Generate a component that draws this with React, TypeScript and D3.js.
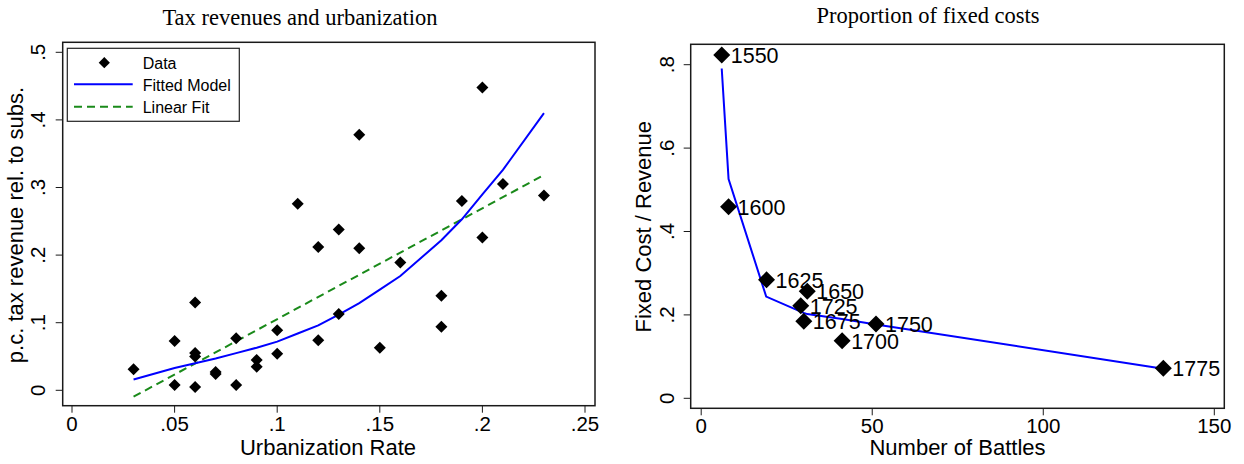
import React from "react";
import * as d3 from "d3";

// ---------- Left panel data ----------
const urbX = [0.03, 0.05, 0.05, 0.06, 0.06, 0.06, 0.06, 0.07, 0.07, 0.08, 0.08, 0.09, 0.09, 0.1, 0.1, 0.11, 0.12, 0.12, 0.13, 0.13, 0.14, 0.14, 0.15, 0.16, 0.18, 0.18, 0.19, 0.2, 0.2, 0.21, 0.23];
const taxY = [0.031, 0.073, 0.008, 0.13, 0.055, 0.05, 0.005, 0.027, 0.024, 0.077, 0.008, 0.045, 0.035, 0.089, 0.054, 0.276, 0.212, 0.074, 0.238, 0.113, 0.378, 0.21, 0.063, 0.189, 0.14, 0.094, 0.28, 0.448, 0.226, 0.305, 0.288];
const fitX = [0.03, 0.05, 0.06, 0.07, 0.08, 0.09, 0.1, 0.11, 0.12, 0.13, 0.14, 0.15, 0.16, 0.18, 0.19, 0.2, 0.21, 0.23];
const fitY = [0.016, 0.033, 0.04, 0.047, 0.055, 0.063, 0.072, 0.084, 0.096, 0.112, 0.129, 0.149, 0.169, 0.222, 0.253, 0.29, 0.326, 0.41];
const linX = [0.03, 0.23];
const linY = [-0.0095, 0.3185];
const leftXTicks = [0, 0.05, 0.1, 0.15, 0.2, 0.25];
const leftXTickLabels = ["0", ".05", ".1", ".15", ".2", ".25"];
const leftYTicks = [0, 0.1, 0.2, 0.3, 0.4, 0.5];
const leftYTickLabels = ["0", ".1", ".2", ".3", ".4", ".5"];
const legendLabels = ["Data", "Fitted Model", "Linear Fit"];

// ---------- Right panel data ----------
const years = ["1550", "1600", "1625", "1650", "1725", "1675", "1750", "1700", "1775"];
const battles = [6.0, 8.0, 19.1, 31.0, 29.1, 30.0, 51.1, 41.2, 135.1];
const fixedShare = [0.823, 0.4595, 0.284, 0.257, 0.222, 0.185, 0.178, 0.138, 0.072];
const curveX = [6.0, 8.0, 19.0, 29.1, 30.0, 31.0, 41.2, 51.1, 135.1];
const curveY = [0.791, 0.526, 0.244, 0.208, 0.205, 0.202, 0.19, 0.177, 0.071];
const rightXTicks = [0, 50, 100, 150];
const rightXTickLabels = ["0", "50", "100", "150"];
const rightYTicks = [0, 0.2, 0.4, 0.6, 0.8];
const rightYTickLabels = ["0", ".2", ".4", ".6", ".8"];

const SANS = "'Liberation Sans', Arial, Helvetica, sans-serif";
const SERIF = "'Liberation Serif', 'Times New Roman', serif";

function diamond(cx: number, cy: number, r: number) {
  return `M${cx},${cy - r}L${cx + r},${cy}L${cx},${cy + r}L${cx - r},${cy}Z`;
}

export default function App() {
  // left scales
  const lx = d3.scaleLinear().domain([0, 0.25]).range([72, 585]);
  const ly = d3.scaleLinear().domain([0, 0.5]).range([390.3, 52.3]);
  const lFrame = { x0: 62.7, x1: 595, y0: 42.3, y1: 405.7 };
  // right scales
  const rx = d3.scaleLinear().domain([0, 150]).range([701.2, 1214.3]);
  const ry = d3.scaleLinear().domain([0, 0.8]).range([398.3, 64.7]);
  const rFrame = { x0: 690.7, x1: 1224.3, y0: 44.3, y1: 408.3 };

  const line = d3.line<[number, number]>();
  const fitPath = line(fitX.map((x, i) => [lx(x), ly(fitY[i])]) as [number, number][]) || "";
  const linPath = line(linX.map((x, i) => [lx(x), ly(linY[i])]) as [number, number][]) || "";
  const curvePath = line(curveX.map((x, i) => [rx(x), ry(curveY[i])]) as [number, number][]) || "";

  const tickLen = 7;
  const frameColor = "#1a1a1a";

  return (
    <svg
      width={1244}
      height={464}
      style={{ position: "absolute", left: 0, top: 0, background: "#fff" }}
    >
      <rect x={0} y={0} width={1244} height={464} fill="#fff" />

      {/* ===== LEFT PANEL ===== */}
      <text x={300} y={25} textAnchor="middle" fontFamily={SERIF} fontSize={22.5} fill="#000">
        Tax revenues and urbanization
      </text>
      <rect
        x={lFrame.x0}
        y={lFrame.y0}
        width={lFrame.x1 - lFrame.x0}
        height={lFrame.y1 - lFrame.y0}
        fill="none"
        stroke={frameColor}
        strokeWidth={1.5}
      />
      {leftXTicks.map((t, i) => (
        <g key={"lxt" + i}>
          <line x1={lx(t)} x2={lx(t)} y1={lFrame.y1} y2={lFrame.y1 + tickLen} stroke={frameColor} strokeWidth={1} />
          <text x={lx(t)} y={430.5} textAnchor="middle" fontFamily={SANS} fontSize={20.5} fill="#000">
            {leftXTickLabels[i]}
          </text>
        </g>
      ))}
      {leftYTicks.map((t, i) => (
        <g key={"lyt" + i}>
          <line x1={lFrame.x0 - tickLen} x2={lFrame.x0} y1={ly(t)} y2={ly(t)} stroke={frameColor} strokeWidth={1} />
          <text
            x={45}
            y={ly(t)}
            transform={`rotate(-90, 45, ${ly(t)})`}
            textAnchor="middle"
            fontFamily={SANS}
            fontSize={20.5}
            fill="#000"
          >
            {leftYTickLabels[i]}
          </text>
        </g>
      ))}
      <text x={328} y={455} textAnchor="middle" fontFamily={SANS} fontSize={22} fill="#000">
        Urbanization Rate
      </text>
      <text
        x={23}
        y={225}
        transform="rotate(-90, 23, 225)"
        textAnchor="middle"
        fontFamily={SANS}
        fontSize={22}
        fill="#000"
      >
        p.c. tax revenue rel. to subs.
      </text>

      <path d={linPath} fill="none" stroke="#1a8a1a" strokeWidth={2} strokeDasharray="8,5" />
      <path d={fitPath} fill="none" stroke="#0000ff" strokeWidth={2} />
      {urbX.map((x, i) => (
        <path key={"pt" + i} d={diamond(lx(x), ly(taxY[i]), 6)} fill="#000" />
      ))}

      {/* legend */}
      <rect x={67.3} y={48.3} width={172} height={73} fill="#fff" stroke="#222" strokeWidth={1.2} />
      <path d={diamond(104.3, 62.7, 5.6)} fill="#000" />
      <line x1={74} x2={132.7} y1={84.3} y2={84.3} stroke="#0000ff" strokeWidth={2} />
      <line x1={74} x2={132.7} y1={106.7} y2={106.7} stroke="#1a8a1a" strokeWidth={2} strokeDasharray="8,5" />
      {legendLabels.map((l, i) => (
        <text key={"lg" + i} x={142.7} y={68.5 + i * 22} fontFamily={SANS} fontSize={16} fill="#000">
          {l}
        </text>
      ))}

      {/* ===== RIGHT PANEL ===== */}
      <text x={928} y={23} textAnchor="middle" fontFamily={SERIF} fontSize={22.5} fill="#000">
        Proportion of fixed costs
      </text>
      <rect
        x={rFrame.x0}
        y={rFrame.y0}
        width={rFrame.x1 - rFrame.x0}
        height={rFrame.y1 - rFrame.y0}
        fill="none"
        stroke={frameColor}
        strokeWidth={1.5}
      />
      {rightXTicks.map((t, i) => (
        <g key={"rxt" + i}>
          <line x1={rx(t)} x2={rx(t)} y1={rFrame.y1} y2={rFrame.y1 + tickLen} stroke={frameColor} strokeWidth={1} />
          <text x={rx(t)} y={433} textAnchor="middle" fontFamily={SANS} fontSize={20.5} fill="#000">
            {rightXTickLabels[i]}
          </text>
        </g>
      ))}
      {rightYTicks.map((t, i) => (
        <g key={"ryt" + i}>
          <line x1={rFrame.x0 - tickLen} x2={rFrame.x0} y1={ry(t)} y2={ry(t)} stroke={frameColor} strokeWidth={1} />
          <text
            x={674}
            y={ry(t)}
            transform={`rotate(-90, 674, ${ry(t)})`}
            textAnchor="middle"
            fontFamily={SANS}
            fontSize={20.5}
            fill="#000"
          >
            {rightYTickLabels[i]}
          </text>
        </g>
      ))}
      <text x={957.5} y={455} textAnchor="middle" fontFamily={SANS} fontSize={22} fill="#000">
        Number of Battles
      </text>
      <text
        x={651}
        y={226.7}
        transform="rotate(-90, 651, 226.7)"
        textAnchor="middle"
        fontFamily={SANS}
        fontSize={22}
        fill="#000"
      >
        Fixed Cost / Revenue
      </text>

      <path d={curvePath} fill="none" stroke="#0000ff" strokeWidth={2} />
      {battles.map((b, i) => (
        <g key={"rp" + i}>
          <path d={diamond(rx(b), ry(fixedShare[i]), 8.5)} fill="#000" />
          <text x={rx(b) + 9} y={ry(fixedShare[i]) + 8} fontFamily={SANS} fontSize={21.5} fill="#000">
            {years[i]}
          </text>
        </g>
      ))}
    </svg>
  );
}
